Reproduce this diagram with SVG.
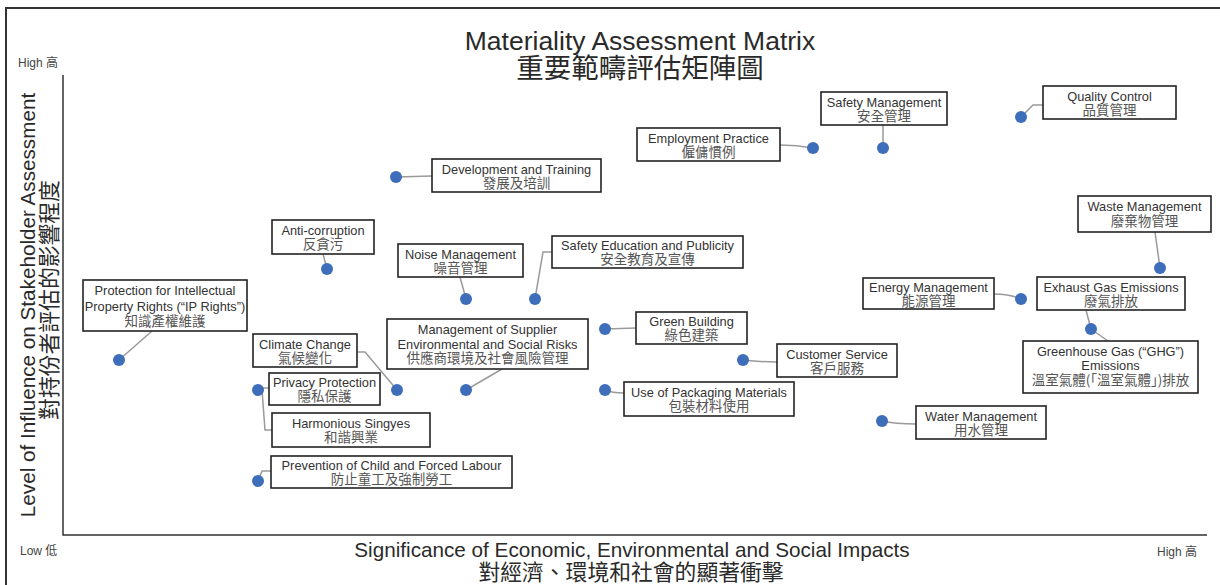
<svg xmlns="http://www.w3.org/2000/svg" width="1220" height="585" viewBox="0 0 1220 585">
<style>
text{font-family:"Liberation Sans","Noto Sans CJK TC",sans-serif}
.frame{fill:none;stroke:#333;stroke-width:2}
.axis{fill:none;stroke:#333;stroke-width:1.5}
.box{fill:#fff;stroke:#222;stroke-width:1.6}
.dot{fill:#3E6DB9}
.conn{fill:none;stroke:#9a9a9a;stroke-width:1.5}
.en{font-size:12.8px;fill:#333;text-anchor:middle}
.zh{font-family:"Noto Sans CJK TC",sans-serif;font-size:13.5px;fill:#555;text-anchor:middle}
.tick{font-size:12px;fill:#444}
.tickzh{font-family:"Noto Sans CJK TC",sans-serif}
.title{font-size:26.5px;fill:#2a2a2a;text-anchor:middle}
.titlezh{font-family:"Noto Sans CJK TC",sans-serif;font-size:27.5px;fill:#2a2a2a;text-anchor:middle}
.axt{font-size:20.7px;fill:#2a2a2a;text-anchor:middle}
.axtzh{font-family:"Noto Sans CJK TC",sans-serif;font-size:21.8px;fill:#2a2a2a;text-anchor:middle}
</style>

<g id="frame">
<path class="frame" d="M6,586 L6,8 L1221,8"/>
<path class="axis" d="M63,75 L63,535 L1207,535"/>
</g>

<g id="titles">
<text class="title" x="640" y="50">Materiality Assessment Matrix</text>
<text class="titlezh" x="640" y="78">重要範疇評估矩陣圖</text>
<text class="axt" x="632" y="557">Significance of Economic, Environmental and Social Impacts</text>
<text class="axtzh" x="631" y="580">對經濟、環境和社會的顯著衝擊</text>
<text class="axt" transform="translate(35,305) rotate(-90)">Level of Influence on Stakeholder Assessment</text>
<text class="axtzh" transform="translate(57,300) rotate(-90)">對持份者評估的影響程度</text>
<text class="tick" x="18" y="67">High <tspan class="tickzh">高</tspan></text>
<text class="tick" x="20" y="555">Low <tspan class="tickzh">低</tspan></text>
<text class="tick" x="1157" y="556">High <tspan class="tickzh">高</tspan></text>
</g>

<g id="connectors">
<path class="conn" d="M1021,117 L1033,105 L1043,105"/>
<path class="conn" d="M883,125 L883,148"/>
<path class="conn" d="M780,145 Q797,145 813,148"/>
<path class="conn" d="M396,177 L432,176"/>
<path class="conn" d="M323,254 L327,269"/>
<path class="conn" d="M152,331 L119,360"/>
<path class="conn" d="M357,352 L365,352 L397,390"/>
<path class="conn" d="M258,390 L262,388 L269,388"/>
<path class="conn" d="M262,390 L265,430 L272,430"/>
<path class="conn" d="M258,481 L262,471 L271,471"/>
<path class="conn" d="M502,369 L466,390"/>
<path class="conn" d="M460,277 L466,299"/>
<path class="conn" d="M552,252 L543,252 L535,299"/>
<path class="conn" d="M605,329 L636,328"/>
<path class="conn" d="M743,360 Q760,362 777,362"/>
<path class="conn" d="M605,390 Q612,393 624,393"/>
<path class="conn" d="M882,421 Q895,424 916,424"/>
<path class="conn" d="M994,294 Q1010,294 1021,299"/>
<path class="conn" d="M1086,310 L1091,329"/>
<path class="conn" d="M1091,329 L1108,341"/>
<path class="conn" d="M1155,232 L1160,268"/>
</g>

<g id="n-quality-control">
<rect class="box" x="1043" y="86" width="133" height="33"/>
<text class="en" x="1109.5" y="100.5">Quality Control</text>
<text class="zh" x="1109.5" y="115">品質管理</text>
<circle class="dot" cx="1021" cy="117" r="6"/>
</g>

<g id="n-safety-management">
<rect class="box" x="821" y="92" width="126" height="33"/>
<text class="en" x="884" y="106.5">Safety Management</text>
<text class="zh" x="884" y="121">安全管理</text>
<circle class="dot" cx="883" cy="148" r="6"/>
</g>

<g id="n-employment-practice">
<rect class="box" x="637" y="128" width="143" height="33"/>
<text class="en" x="708.5" y="142.5">Employment Practice</text>
<text class="zh" x="708.5" y="157">僱傭慣例</text>
<circle class="dot" cx="813" cy="148" r="6"/>
</g>

<g id="n-development-training">
<rect class="box" x="432" y="159" width="169" height="33"/>
<text class="en" x="516.5" y="173.5">Development and Training</text>
<text class="zh" x="516.5" y="188">發展及培訓</text>
<circle class="dot" cx="396" cy="177" r="6"/>
</g>

<g id="n-anti-corruption">
<rect class="box" x="272" y="220" width="102" height="34"/>
<text class="en" x="323" y="234.5">Anti-corruption</text>
<text class="zh" x="323" y="249">反貪污</text>
<circle class="dot" cx="327" cy="269" r="6"/>
</g>

<g id="n-ip-rights">
<rect class="box" x="83" y="280" width="164" height="51"/>
<text class="en" x="165" y="295">Protection for Intellectual</text>
<text class="en" x="165" y="310.5">Property Rights (“IP Rights”)</text>
<text class="zh" x="165" y="325.5">知識產權維護</text>
<circle class="dot" cx="119" cy="360" r="6"/>
</g>

<g id="n-climate-change">
<rect class="box" x="253" y="334" width="104" height="33"/>
<text class="en" x="305" y="348.5">Climate Change</text>
<text class="zh" x="305" y="363">氣候變化</text>
<circle class="dot" cx="397" cy="390" r="6"/>
</g>

<g id="n-privacy-protection">
<rect class="box" x="269" y="373" width="111" height="32"/>
<text class="en" x="324.5" y="386.5">Privacy Protection</text>
<text class="zh" x="324.5" y="401">隱私保護</text>
<circle class="dot" cx="258" cy="390" r="6"/>
</g>

<g id="n-harmonious-singyes">
<rect class="box" x="272" y="413" width="158" height="34"/>
<text class="en" x="351" y="427.5">Harmonious Singyes</text>
<text class="zh" x="351" y="442">和諧興業</text>
</g>

<g id="n-child-forced-labour">
<rect class="box" x="271" y="456" width="241" height="32"/>
<text class="en" x="391.5" y="469.5">Prevention of Child and Forced Labour</text>
<text class="zh" x="391.5" y="484">防止童工及強制勞工</text>
<circle class="dot" cx="258" cy="481" r="6"/>
</g>

<g id="n-supplier-risks">
<rect class="box" x="387" y="319" width="201" height="50"/>
<text class="en" x="487.5" y="333.5">Management of Supplier</text>
<text class="en" x="487.5" y="348.5">Environmental and Social Risks</text>
<text class="zh" x="487.5" y="363">供應商環境及社會風險管理</text>
<circle class="dot" cx="466" cy="390" r="6"/>
</g>

<g id="n-noise-management">
<rect class="box" x="398" y="244" width="125" height="33"/>
<text class="en" x="460.5" y="258.5">Noise Management</text>
<text class="zh" x="460.5" y="273">噪音管理</text>
<circle class="dot" cx="466" cy="299" r="6"/>
</g>

<g id="n-safety-education">
<rect class="box" x="552" y="236" width="191" height="32"/>
<text class="en" x="647.5" y="249.5">Safety Education and Publicity</text>
<text class="zh" x="647.5" y="264">安全教育及宣傳</text>
<circle class="dot" cx="535" cy="299" r="6"/>
</g>

<g id="n-green-building">
<rect class="box" x="636" y="312" width="111" height="32"/>
<text class="en" x="691.5" y="325.5">Green Building</text>
<text class="zh" x="691.5" y="340">綠色建築</text>
<circle class="dot" cx="605" cy="329" r="6"/>
</g>

<g id="n-customer-service">
<rect class="box" x="777" y="344" width="120" height="33"/>
<text class="en" x="837" y="358.5">Customer Service</text>
<text class="zh" x="837" y="373">客戶服務</text>
<circle class="dot" cx="743" cy="360" r="6"/>
</g>

<g id="n-packaging">
<rect class="box" x="624" y="382" width="170" height="34"/>
<text class="en" x="709" y="396.5">Use of Packaging Materials</text>
<text class="zh" x="709" y="411">包裝材料使用</text>
<circle class="dot" cx="605" cy="390" r="6"/>
</g>

<g id="n-water-management">
<rect class="box" x="916" y="406" width="130" height="33"/>
<text class="en" x="981" y="420.5">Water Management</text>
<text class="zh" x="981" y="435">用水管理</text>
<circle class="dot" cx="882" cy="421" r="6"/>
</g>

<g id="n-energy-management">
<rect class="box" x="863" y="278" width="131" height="31"/>
<text class="en" x="928.5" y="291.5">Energy Management</text>
<text class="zh" x="928.5" y="305.5">能源管理</text>
<circle class="dot" cx="1021" cy="299" r="6"/>
</g>

<g id="n-exhaust-gas">
<rect class="box" x="1037" y="277" width="148" height="33"/>
<text class="en" x="1111" y="291.5">Exhaust Gas Emissions</text>
<text class="zh" x="1111" y="306">廢氣排放</text>
<circle class="dot" cx="1091" cy="329" r="6"/>
</g>

<g id="n-waste-management">
<rect class="box" x="1078" y="196" width="133" height="36"/>
<text class="en" x="1144.5" y="211">Waste Management</text>
<text class="zh" x="1144.5" y="226">廢棄物管理</text>
<circle class="dot" cx="1160" cy="268" r="6"/>
</g>

<g id="n-ghg-emissions">
<rect class="box" x="1023" y="341" width="175" height="52"/>
<text class="en" x="1110.5" y="355.5">Greenhouse Gas (“GHG”)</text>
<text class="en" x="1110.5" y="370">Emissions</text>
<text class="zh" x="1110.5" y="385">溫室氣體(「溫室氣體」)排放</text>
</g>
</svg>
